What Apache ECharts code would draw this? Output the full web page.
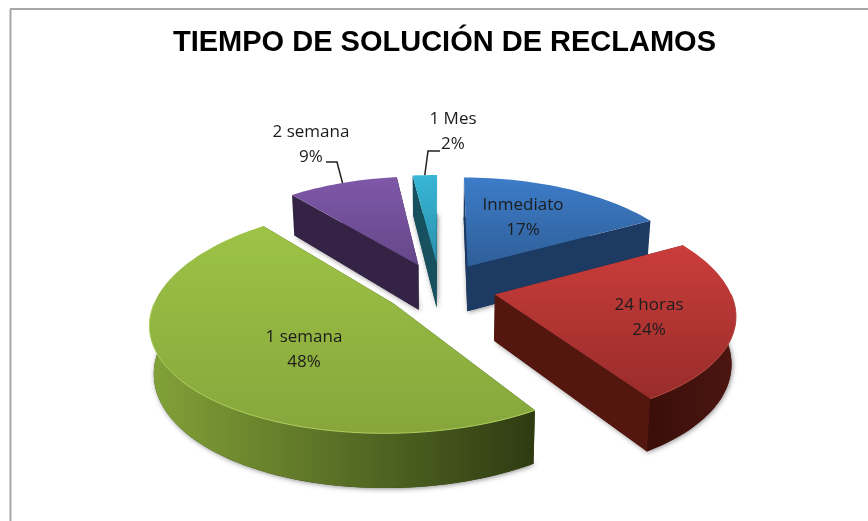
<!DOCTYPE html>
<html><head><meta charset="utf-8">
<style>html,body{margin:0;padding:0;background:#fff}#c{width:868px;height:521px}</style>
<script src="https://cdn.jsdelivr.net/npm/echarts@6/dist/echarts.min.js"></script>
</head><body><div id="c"></div>
<script>
const TITLE = 'TIEMPO DE SOLUCIÓN DE RECLAMOS';
const CATEGORIES = ['Inmediato', '24 horas', '1 semana', '2 semana', '1 Mes'];
const VALUES = [17, 24, 48, 9, 2];

const TOP_COLORS = [['#3d7cc9','#2f5f98'],['#ca3d3b','#982c2a'],['#9dc346','#86a63c'],['#7f58a8','#66478a'],['#38b6d6','#2a90aa']];
const CUT_COLORS = ['#1c3a62','#54170f','#33420f','#342345','#17505e'];
const WALL_COLORS = [['#1c3a62','#1c3a62'],['#3a0e0a','#4c1611'],['#82a238','#2e3b12'],['#342345','#342345'],['#17505e','#17505e']];
const RIM_COLORS = ['#5a90d0','#b84a46','#b0d260','#9a78c0','#60c8e0'];
const LABEL_LAYOUT = [[523,218],[649,318],[304,350],[311,145],[453,132]];
const LEADERS = [null,null,null,[[326,162],[337,162]],[[440,151],[428,151]]];

const CX=440, CY=288, RX=234, RY=107, KX=0.16, KY=0.14, EXPLODE=0.24, DEPTH=46, BOTTOM_SHRINK=0.985;
const TOTAL = VALUES.reduce((a,b)=>a+b,0);

function project(X,V,lower){
  const sx = 1/(1-KX*V), sy = 1/(1-KY*V);
  const dx = RX*X*sx*(lower?BOTTOM_SHRINK:1);
  return [CX+dx, CY+RY*V*sy+(lower?DEPTH*sy:0)];
}
function ang(d){return d*Math.PI/180;}

function renderSlice(params, api){
  const i = params.dataIndex;
  const v = api.value(1);
  let before = 0; for(let j=0;j<i;j++) before += VALUES[j];
  const a0 = before/TOTAL*360, a1 = (before+v)/TOTAL*360, mid=(a0+a1)/2;
  const ox = EXPLODE*Math.sin(ang(mid)), oy = -EXPLODE*Math.cos(ang(mid));
  const pt = (a,r,lower)=>project(ox+r*Math.sin(ang(a)), oy-r*Math.cos(ang(a)), lower);
  const arc = (s,e,lower)=>{const out=[];const n=Math.max(2,Math.ceil((e-s)/2));
    for(let k=0;k<=n;k++) out.push(pt(s+(e-s)*k/n,1,lower));return out;};
  const apexT=pt(0,0,false), apexB=pt(0,0,true);
  const children=[];
  children.push({type:'polygon',shape:{points:[apexB].concat(arc(a0,a1,true))},
    style:{fill:CUT_COLORS[i],shadowBlur:5,shadowColor:'rgba(0,0,0,0.45)',shadowOffsetX:1,shadowOffsetY:1}});
  [a0,a1].forEach(a=>{
    children.push({type:'polygon',shape:{points:[apexT,pt(a,1,false),pt(a,1,true),apexB]},style:{fill:CUT_COLORS[i]}});
  });
  const w0=Math.max(a0,90), w1=Math.min(a1,270);
  if(w1>w0){
    children.push({type:'polygon',shape:{points:arc(w0,w1,false).concat(arc(w0,w1,true).reverse())},
      style:{fill:{type:'linear',x:0,y:0,x2:1,y2:0,colorStops:[
        {offset:0,color:WALL_COLORS[i][0]},
        {offset:1,color:WALL_COLORS[i][1]}]}}});
  }
  children.push({type:'polygon',shape:{points:[apexT].concat(arc(a0,a1,false))},
    style:{fill:{type:'linear',x:0,y:0,x2:0,y2:1,colorStops:[{offset:0,color:TOP_COLORS[i][0]},{offset:1,color:TOP_COLORS[i][1]}]}}});
  if(w1>w0){
    children.push({type:'polyline',shape:{points:arc(w0,w1,false)},style:{fill:'none',stroke:RIM_COLORS[i],lineWidth:1}});
  }
  if(LEADERS[i]){
    children.push({type:'polyline',shape:{points:LEADERS[i].concat([pt(mid,1,false)])},style:{fill:'none',stroke:'#222',lineWidth:1.5}});
  }
  children.push({type:'text',style:{text:CATEGORIES[i]+'\n'+v+'%',x:LABEL_LAYOUT[i][0],y:LABEL_LAYOUT[i][1],
    align:'center',verticalAlign:'middle',fill:'#1c1c1c',font:'17px "Open Sans"',lineHeight:25}});
  return {type:'group',children};
}

const chart = echarts.init(document.getElementById('c'),null,{renderer:'canvas'});
chart.setOption({
  animation:false,
  backgroundColor:'#fff',
  title:{text:TITLE,left:173,top:28,padding:0,textStyle:{fontFamily:'Liberation Sans',fontWeight:'bold',fontSize:29,color:'#000'}},
  graphic:[
    {type:'line',shape:{x1:10,y1:9,x2:868,y2:9},style:{stroke:'#a8a8a8',lineWidth:2}},
    {type:'line',shape:{x1:10.5,y1:9,x2:10.5,y2:521},style:{stroke:'#a8a8a8',lineWidth:2}}
  ],
  series:[{type:'custom',coordinateSystem:'none',renderItem:renderSlice,
    data:VALUES.map((v,i)=>[i,v]),silent:true}]
});
</script></body></html>
